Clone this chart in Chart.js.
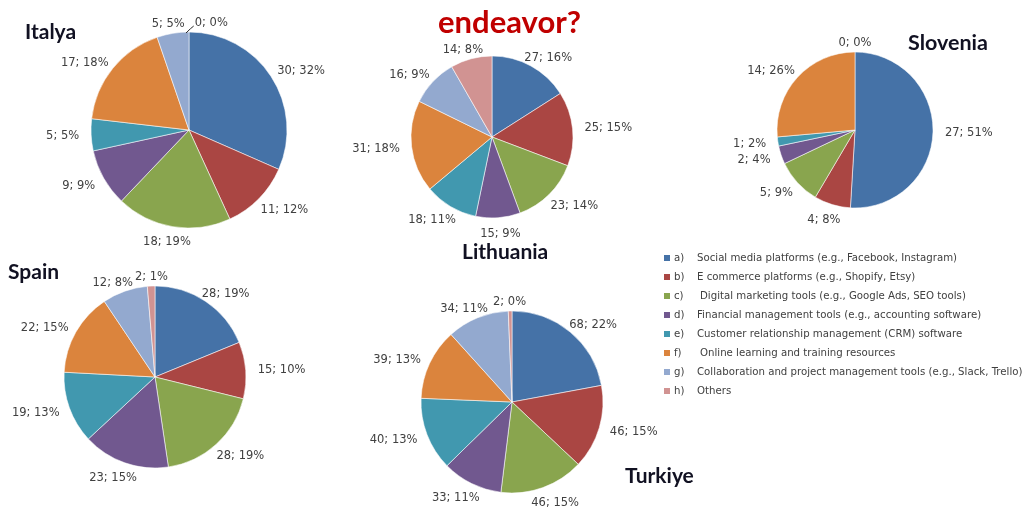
<!DOCTYPE html>
<html>
<head>
<meta charset="utf-8">
<script src="https://cdn.jsdelivr.net/npm/chart.js@4/dist/chart.umd.min.js"></script>
<style>
  html, body { margin: 0; padding: 0; background: #fff; }
  #stage { position: relative; width: 1028px; height: 510px; overflow: hidden; background: #fff; }
  #stage canvas { position: absolute; left: 0; top: 0; pointer-events: none; }
  .title { position: absolute; font-family: Lato, "DejaVu Sans", sans-serif; font-weight: 700; line-height: 1; white-space: nowrap; color: #111122; }
  .row { position: absolute; white-space: nowrap; font-family: "DejaVu Sans", sans-serif; font-size: 10.2px; line-height: 12px; color: #404040; }
  .sw { position: absolute; width: 6px; height: 6px; }
</style>
</head>
<body>
<div id="stage"></div>
<script>
// Tool categories shared by every country pie
const categoryKeys = ['a)', 'b)', 'c)', 'd)', 'e)', 'f)', 'g)', 'h)'];
const categories = [
  'Social media platforms (e.g., Facebook, Instagram)',
  'E commerce platforms (e.g., Shopify, Etsy)',
  'Digital marketing tools (e.g., Google Ads, SEO tools)',
  'Financial management tools (e.g., accounting software)',
  'Customer relationship management (CRM) software',
  'Online learning and training resources',
  'Collaboration and project management tools (e.g., Slack, Trello)',
  'Others'
];

// Responses per category (count) and the share printed next to each slice
const italyaValues    = [30, 11, 18, 9, 5, 17, 5, 0];
const italyaPercents  = [32, 12, 19, 9, 5, 18, 5, 0];
const lithuaniaValues   = [27, 25, 23, 15, 18, 31, 16, 14];
const lithuaniaPercents = [16, 15, 14, 9, 11, 18, 9, 8];
const sloveniaValues   = [27, 4, 5, 2, 1, 14, null, 0];
const sloveniaPercents = [51, 8, 9, 4, 2, 26, null, 0];
const spainValues   = [28, 15, 28, 23, 19, 22, 12, 2];
const spainPercents = [19, 10, 19, 15, 13, 15, 8, 1];
const turkiyeValues   = [68, 46, 46, 33, 40, 39, 34, 2];
const turkiyePercents = [22, 15, 15, 11, 13, 13, 11, 0];

const sliceColors = ['#4572A7', '#AA4643', '#89A54E', '#71588F', '#4198AF', '#DB843D', '#93A9CF', '#D19392'];

const W = 1028, H = 510;
const stage = document.getElementById('stage');

// Outside-end "value; percent" labels; colliding labels are pushed apart,
// and an empty slice's label is moved aside with a leader line
const outsideLabels = {
  id: 'outsideLabels',
  afterDatasetsDraw(chart, args, opts) {
    const ctx = chart.ctx;
    const meta = chart.getDatasetMeta(0);
    const vals = chart.data.datasets[0].data;
    const pct = opts.percents;
    const lh = 12;
    ctx.save();
    ctx.font = '11.5px "DejaVu Sans", sans-serif';
    const items = [];
    meta.data.forEach((arc, i) => {
      if (vals[i] === null || vals[i] === undefined) return;
      const p = arc.getProps(['x', 'y', 'startAngle', 'endAngle', 'outerRadius'], true);
      const mid = (p.startAngle + p.endAngle) / 2;
      const dx = Math.cos(mid), dy = Math.sin(mid);
      const text = vals[i] + '; ' + pct[i] + '%';
      const w = ctx.measureText(text).width;
      const rx = p.outerRadius + 12;
      const ry = p.outerRadius + (dy < 0 ? 3 : 10);
      const it = {
        text, w, h: lh,
        x: p.x + dx * rx + dx * w / 2,
        y: p.y + dy * ry + dy * lh / 2,
        ax: p.x + dx * p.outerRadius, ay: p.y + dy * p.outerRadius,
        leader: false
      };
      items.forEach(q => {
        const need = (it.w + q.w) / 2 + 2;
        if (Math.abs(it.x - q.x) < need && Math.abs(it.y - q.y) < (it.h + q.h) / 2) {
          const dir = it.x >= q.x ? 1 : -1;
          if (vals[i] === 0) {
            it.x = q.x + dir * ((it.w + q.w) / 2 + 10);
            it.leader = true;
          } else {
            const half = (need - Math.abs(it.x - q.x)) / 2;
            it.x += dir * half;
            q.x -= dir * half;
          }
        }
      });
      items.push(it);
    });
    ctx.fillStyle = '#404040';
    ctx.textAlign = 'center';
    ctx.textBaseline = 'middle';
    items.forEach(it => {
      if (it.leader) {
        ctx.strokeStyle = '#262626';
        ctx.lineWidth = 1;
        ctx.beginPath();
        ctx.moveTo(it.ax - 3, it.ay + 1);
        ctx.quadraticCurveTo(it.ax + 2, it.ay - 4, it.x - it.w / 2 - 1, it.y + 3);
        ctx.stroke();
      }
      ctx.fillText(it.text, it.x, it.y);
    });
    ctx.restore();
  }
};

function addPie(values, percents, cx, cy, r) {
  const cv = document.createElement('canvas');
  cv.width = W; cv.height = H;
  cv.style.width = W + 'px'; cv.style.height = H + 'px';
  stage.appendChild(cv);
  const rr = r + 0.5;
  new Chart(cv, {
    type: 'pie',
    data: {
      labels: categories,
      datasets: [{
        data: values,
        backgroundColor: sliceColors,
        borderColor: 'rgba(255,255,255,0.55)',
        borderWidth: 1
      }]
    },
    options: {
      responsive: false,
      animation: false,
      events: [],
      layout: { padding: { left: cx - rr, top: cy - rr, right: W - cx - rr, bottom: H - cy - rr } },
      plugins: {
        legend: { display: false },
        tooltip: { enabled: false },
        outsideLabels: { percents: percents }
      }
    },
    plugins: [outsideLabels]
  });
}

addPie(italyaValues, italyaPercents, 189, 130, 98);
addPie(lithuaniaValues, lithuaniaPercents, 492, 137, 81);
addPie(sloveniaValues, sloveniaPercents, 855, 130, 78);
addPie(spainValues, spainPercents, 155, 377, 91);
addPie(turkiyeValues, turkiyePercents, 512, 402, 91);

// Headings, placed by their baseline
function addTitle(text, left, baseline, size, color) {
  const d = document.createElement('div');
  d.className = 'title';
  d.textContent = text;
  d.style.fontSize = size + 'px';
  d.style.left = left + 'px';
  d.style.top = (baseline - 0.887 * size) + 'px';
  if (color) d.style.color = color;
  stage.appendChild(d);
}
addTitle('Italya', 25, 39, 21);
addTitle('endeavor?', 438, 33, 31, '#C00000');
addTitle('Lithuania', 462, 259, 21);
addTitle('Slovenia', 908, 51, 21.5);
addTitle('Spain', 8, 279, 21);
addTitle('Turkiye', 625, 483, 21);

// Category key
const legendIndent = [0, 0, 3, 0, 0, 3, 0, 0];
categories.forEach((name, i) => {
  const yc = 258 + i * 19;
  const sw = document.createElement('div');
  sw.className = 'sw';
  sw.style.left = '664px';
  sw.style.top = (yc - 3) + 'px';
  sw.style.background = sliceColors[i];
  stage.appendChild(sw);
  const k = document.createElement('div');
  k.className = 'row';
  k.style.left = '674px';
  k.style.top = (yc - 6) + 'px';
  k.textContent = categoryKeys[i];
  stage.appendChild(k);
  const t = document.createElement('div');
  t.className = 'row';
  t.style.left = (697 + legendIndent[i]) + 'px';
  t.style.top = (yc - 6) + 'px';
  t.textContent = name;
  stage.appendChild(t);
});
</script>
</body>
</html>
